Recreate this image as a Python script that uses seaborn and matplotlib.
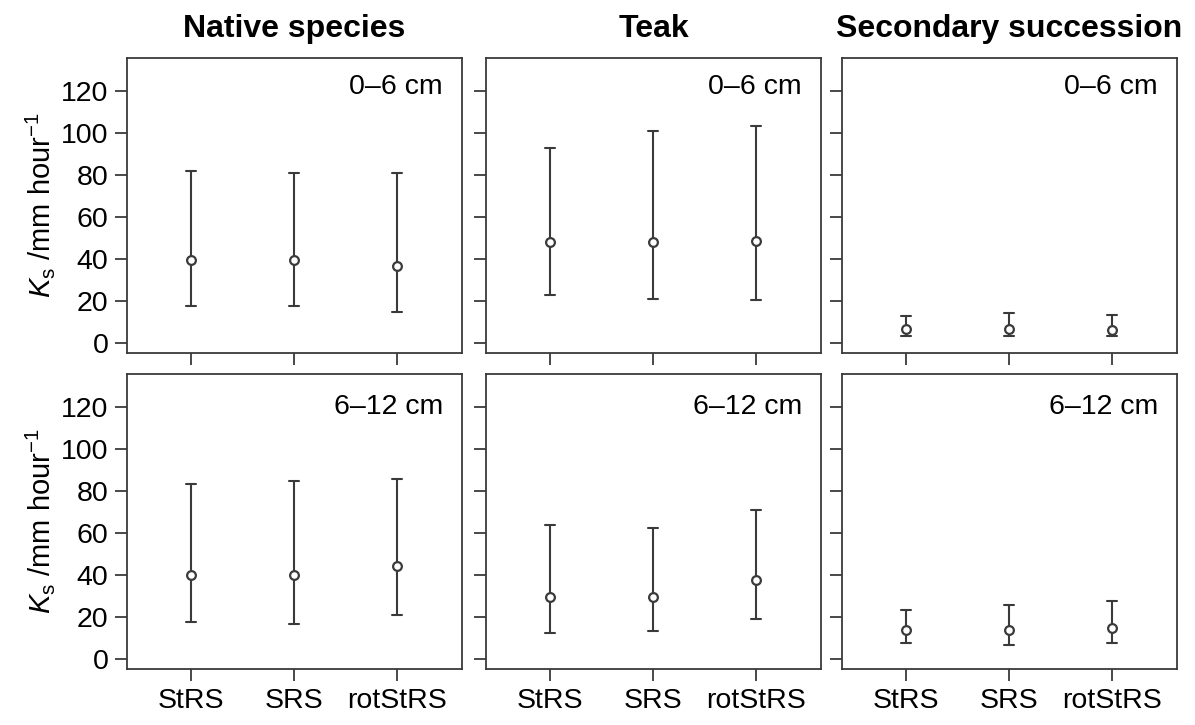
import numpy as np
import pandas as pd
import seaborn as sns
import matplotlib
matplotlib.use("Agg")
import matplotlib.pyplot as plt

# ===================== data =====================
groups = ["StRS", "SRS", "rotStRS"]
forests = ["Native species", "Teak", "Secondary succession"]
depths = ["0–6 cm", "6–12 cm"]

native_0_6_mean = [39.5, 39.5, 36.5]
native_0_6_low = [17.4, 17.7, 14.7]
native_0_6_high = [82.2, 81.1, 81.1]

native_6_12_mean = [39.8, 39.8, 44.2]
native_6_12_low = [17.3, 16.7, 20.8]
native_6_12_high = [83.4, 84.8, 85.8]

teak_0_6_mean = [48.0, 48.0, 48.6]
teak_0_6_low = [22.6, 20.6, 20.3]
teak_0_6_high = [93.2, 100.9, 103.5]

teak_6_12_mean = [29.6, 29.6, 37.6]
teak_6_12_low = [12.3, 13.0, 18.7]
teak_6_12_high = [63.7, 62.6, 71.2]

sec_0_6_mean = [6.7, 6.7, 5.9]
sec_0_6_low = [3.0, 3.0, 3.0]
sec_0_6_high = [12.7, 14.1, 13.4]

sec_6_12_mean = [13.6, 13.6, 14.6]
sec_6_12_low = [7.2, 6.6, 7.2]
sec_6_12_high = [23.4, 25.6, 27.4]

yticks = [0, 20, 40, 60, 80, 100, 120]

# ===================== style =====================
sns.set_theme(style="ticks")
plt.rcParams["font.family"] = ["Liberation Sans", "DejaVu Sans"]
plt.rcParams["mathtext.fontset"] = "custom"
plt.rcParams["mathtext.rm"] = "Liberation Sans"
plt.rcParams["mathtext.it"] = "Liberation Sans:italic"
plt.rcParams["text.color"] = "black"
plt.rcParams["axes.labelcolor"] = "black"
dark = "#3a3a3a"

panels = {
    (0, 0): (native_0_6_mean, native_0_6_low, native_0_6_high),
    (1, 0): (native_6_12_mean, native_6_12_low, native_6_12_high),
    (0, 1): (teak_0_6_mean, teak_0_6_low, teak_0_6_high),
    (1, 1): (teak_6_12_mean, teak_6_12_low, teak_6_12_high),
    (0, 2): (sec_0_6_mean, sec_0_6_low, sec_0_6_high),
    (1, 2): (sec_6_12_mean, sec_6_12_low, sec_6_12_high),
}


def long_frame(mean, low, high):
    # three rows per group: lower bound, mean, upper bound
    rows = []
    for g, m, lo, hi in zip(groups, mean, low, high):
        for v in (lo, m, hi):
            rows.append({"group": g, "Ks": v})
    return pd.DataFrame(rows)


fig = plt.figure(figsize=(11.95, 7.25), dpi=100)
W, H = 1195, 725
lefts = [127, 486, 842]
tops = [58, 374]
pw, ph = 335, 295

for (r, c), (mean, low, high) in panels.items():
    ax = fig.add_axes([lefts[c] / W, 1 - (tops[r] + ph) / H, pw / W, ph / H])
    df = long_frame(mean, low, high)
    sns.pointplot(data=df, x="group", y="Ks", order=groups, ax=ax,
                  estimator="median", errorbar=lambda v: (v.min(), v.max()),
                  color=dark, linestyle="none", marker="o", markersize=6.3,
                  markerfacecolor="white", markeredgecolor=dark, markeredgewidth=1.6,
                  capsize=0.1, err_kws={"linewidth": 1.5, "color": dark, "zorder": 2},
                  zorder=5)
    ax.set_ylim(-5, 136)
    ax.set_xlim(-0.62, 2.63)
    ax.set_yticks(yticks)
    ax.set_xlabel("")
    ax.tick_params(direction="out", length=8.5, width=1.3, color=dark, pad=5,
                   labelsize=20.5, labelcolor="black")
    for sp in ax.spines.values():
        sp.set_visible(True)
        sp.set_linewidth(1.3)
        sp.set_color(dark)
    if c == 0:
        ax.set_ylabel(r"$K_\mathrm{s}$ /mm hour$^{-1}$", fontsize=21, labelpad=3)
    else:
        ax.set_ylabel("")
        ax.set_yticklabels([])
    if r == 0:
        ax.set_xticklabels([])
        ax.set_title(forests[c], fontsize=23, fontweight="bold", pad=15)
    ax.text(0.943, 0.9 if r == 0 else 0.888, depths[r], transform=ax.transAxes,
            ha="right", va="center", fontsize=20.5)

fig.savefig("out.png", dpi=100)
